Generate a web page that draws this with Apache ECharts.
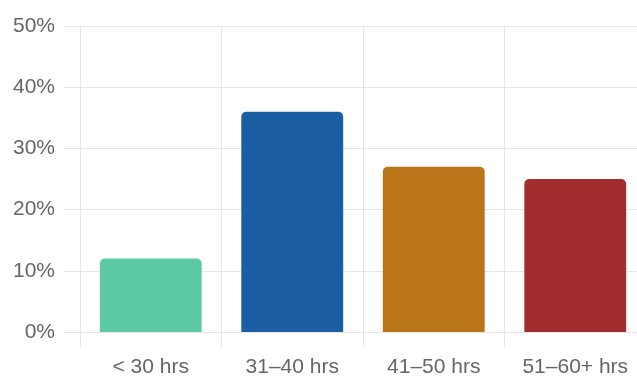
<!DOCTYPE html>
<html>
<head>
<meta charset="utf-8">
<script src="https://cdn.jsdelivr.net/npm/echarts@6/dist/echarts.min.js"></script>
<style>
  html, body { margin: 0; padding: 0; background: #fff; overflow: hidden; }
  #chart { width: 646px; height: 378px; }
</style>
</head>
<body>
<div id="chart"></div>
<script>
// Weekly hours worked, share of respondents
const categories = ['< 30 hrs', '31–40 hrs', '41–50 hrs', '51–60+ hrs'];
const shares = [12, 36, 27, 25];
const barColors = ['#5dc9a5', '#1b5ea3', '#b97518', '#a22d2f'];
const yTicks = [0, 10, 20, 30, 40, 50];

const gridColor = '#e6e6e6';
const labelColor = '#666';
const fontFamily = '"Liberation Sans", Arial, Helvetica, sans-serif';

const chart = echarts.init(document.getElementById('chart'), null, { renderer: 'canvas' });
chart.setOption({
  animation: false,
  grid: { left: 80, top: 26, right: 0, bottom: 45, containLabel: false },
  xAxis: {
    type: 'category',
    data: categories,
    boundaryGap: true,
    axisLine: { show: true, lineStyle: { color: gridColor, width: 1 } },
    axisTick: { show: true, length: 15, lineStyle: { color: gridColor } },
    splitLine: { show: true, lineStyle: { color: gridColor, width: 1 } },
    axisLabel: { color: labelColor, fontSize: 21, fontFamily, margin: 25 }
  },
  yAxis: {
    type: 'value',
    min: yTicks[0],
    max: yTicks[yTicks.length - 1],
    interval: 10,
    axisLine: { show: false },
    axisTick: { show: true, length: 16, lineStyle: { color: gridColor } },
    splitLine: { show: true, lineStyle: { color: gridColor, width: 1 } },
    axisLabel: { color: labelColor, fontSize: 21, fontFamily, margin: 25, formatter: v => v + '%' }
  },
  series: [{
    type: 'bar',
    barWidth: '72%',
    data: shares.map((v, i) => ({ value: v, itemStyle: { color: barColors[i] } })),
    itemStyle: { borderRadius: [5, 5, 0, 0] }
  }]
});
</script>
</body>
</html>
